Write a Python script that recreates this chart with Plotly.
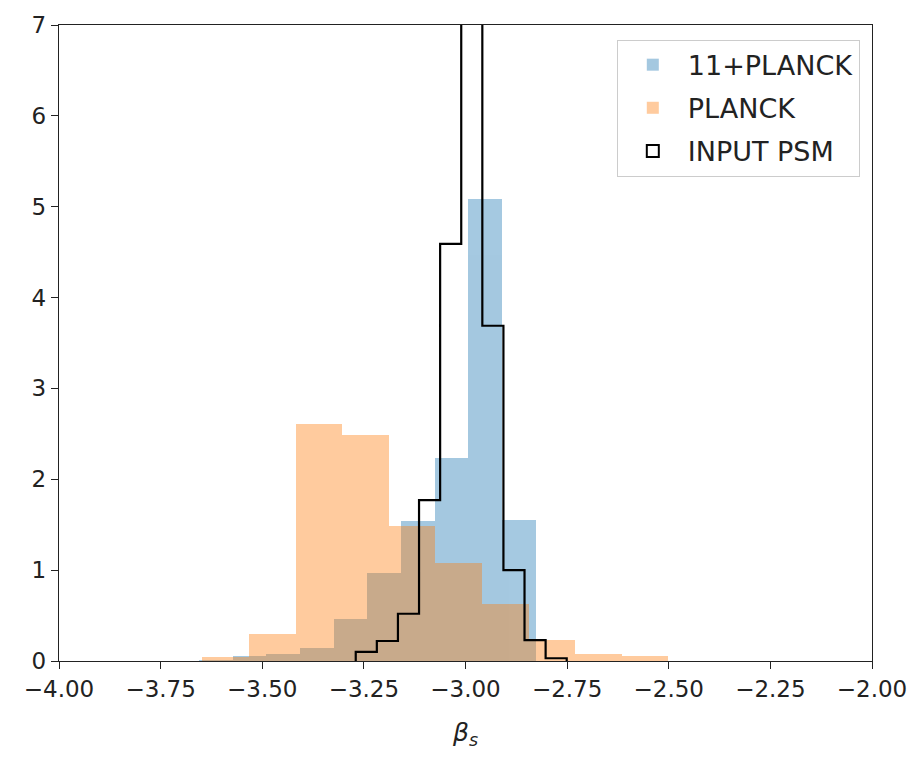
import numpy as np
import plotly.graph_objects as go

# ---- data (density histograms, 10 bins each) ----
blue_range = [-3.656, -2.827]          # 11+PLANCK
blue_heights = [0.01, 0.05, 0.08, 0.14, 0.46, 0.97, 1.54, 2.23, 5.08, 1.55]

orange_range = [-3.647, -2.501]        # PLANCK
orange_heights = [0.04, 0.30, 2.61, 2.49, 1.49, 1.08, 0.63, 0.23, 0.08, 0.05]

black_range = [-3.270, -2.751]         # INPUT PSM
black_heights = [0.10, 0.22, 0.52, 1.77, 4.59, 7.30, 3.69, 1.00, 0.23, 0.03]

x_ticks = [-4.00, -3.75, -3.50, -3.25, -3.00, -2.75, -2.50, -2.25, -2.00]
y_ticks = [0, 1, 2, 3, 4, 5, 6, 7]

FONT = "DejaVu Sans"


def edges_of(rng, n):
    return np.linspace(rng[0], rng[1], n + 1)


fig = go.Figure()

for name, rng, h, col, grp in [
    ("11+PLANCK", blue_range, blue_heights, "#1f77b4", "a"),
    ("PLANCK", orange_range, orange_heights, "#ff7f0e", "b"),
]:
    e = edges_of(rng, len(h))
    centers = (e[:-1] + e[1:]) / 2
    w = e[1] - e[0]
    fig.add_trace(go.Bar(
        x=centers, y=h, width=[w] * len(h), name=name,
        marker=dict(color=col, line=dict(width=0)), opacity=0.4,
        legendgroup=grp,
    ))

# step outline for INPUT PSM
e = edges_of(black_range, len(black_heights))
xs = [e[0]]
ys = [0]
for i, hv in enumerate(black_heights):
    xs += [e[i], e[i + 1]]
    ys += [hv, hv]
xs.append(e[-1])
ys.append(0)
fig.add_trace(go.Scatter(
    x=xs, y=ys, mode="lines", name="INPUT PSM",
    line=dict(color="black", width=2.2), showlegend=False,
    legendgroup="c",
))
# legend entry (outlined box) for INPUT PSM
fig.add_trace(go.Bar(
    x=[None], y=[None], name="INPUT PSM", legendgroup="c",
    marker=dict(color="rgba(255,255,255,0)", line=dict(color="black", width=2)),
))

fig.update_layout(
    width=919, height=760,
    margin=dict(l=59, r=45, t=23, b=99),
    paper_bgcolor="white", plot_bgcolor="white",
    barmode="overlay", bargap=0,
    font=dict(family=FONT, size=23, color="#222"),
    legend=dict(
        x=0.985, y=0.977, xanchor="right", yanchor="top",
        bgcolor="rgba(255,255,255,0.8)", bordercolor="#cccccc", borderwidth=1,
        font=dict(family=FONT, size=27, color="#222"),
        traceorder="grouped", tracegroupgap=5, itemwidth=60,
    ),
    xaxis=dict(
        range=[-4, -2], tickvals=x_ticks,
        ticktext=[f"{v:.2f}".replace("-", "\u2212") for v in x_ticks],
        showline=True, linecolor="#222", linewidth=1.3, mirror=True,
        ticks="outside", ticklen=7, tickcolor="#222", tickwidth=1.3,
        showgrid=False, zeroline=False,
        tickfont=dict(family=FONT, size=23, color="#222"),
        title=dict(text="<i>β</i><sub><i>s</i></sub>", font=dict(family=FONT, size=25, color="#222"), standoff=22),
    ),
    yaxis=dict(
        range=[0, 7], tickvals=y_ticks,
        showline=True, linecolor="#222", linewidth=1.3, mirror=True,
        ticks="outside", ticklen=7, tickcolor="#222", tickwidth=1.3,
        showgrid=False, zeroline=False,
        tickfont=dict(family=FONT, size=23, color="#222"),
    ),
)

fig.write_html("out.html")
